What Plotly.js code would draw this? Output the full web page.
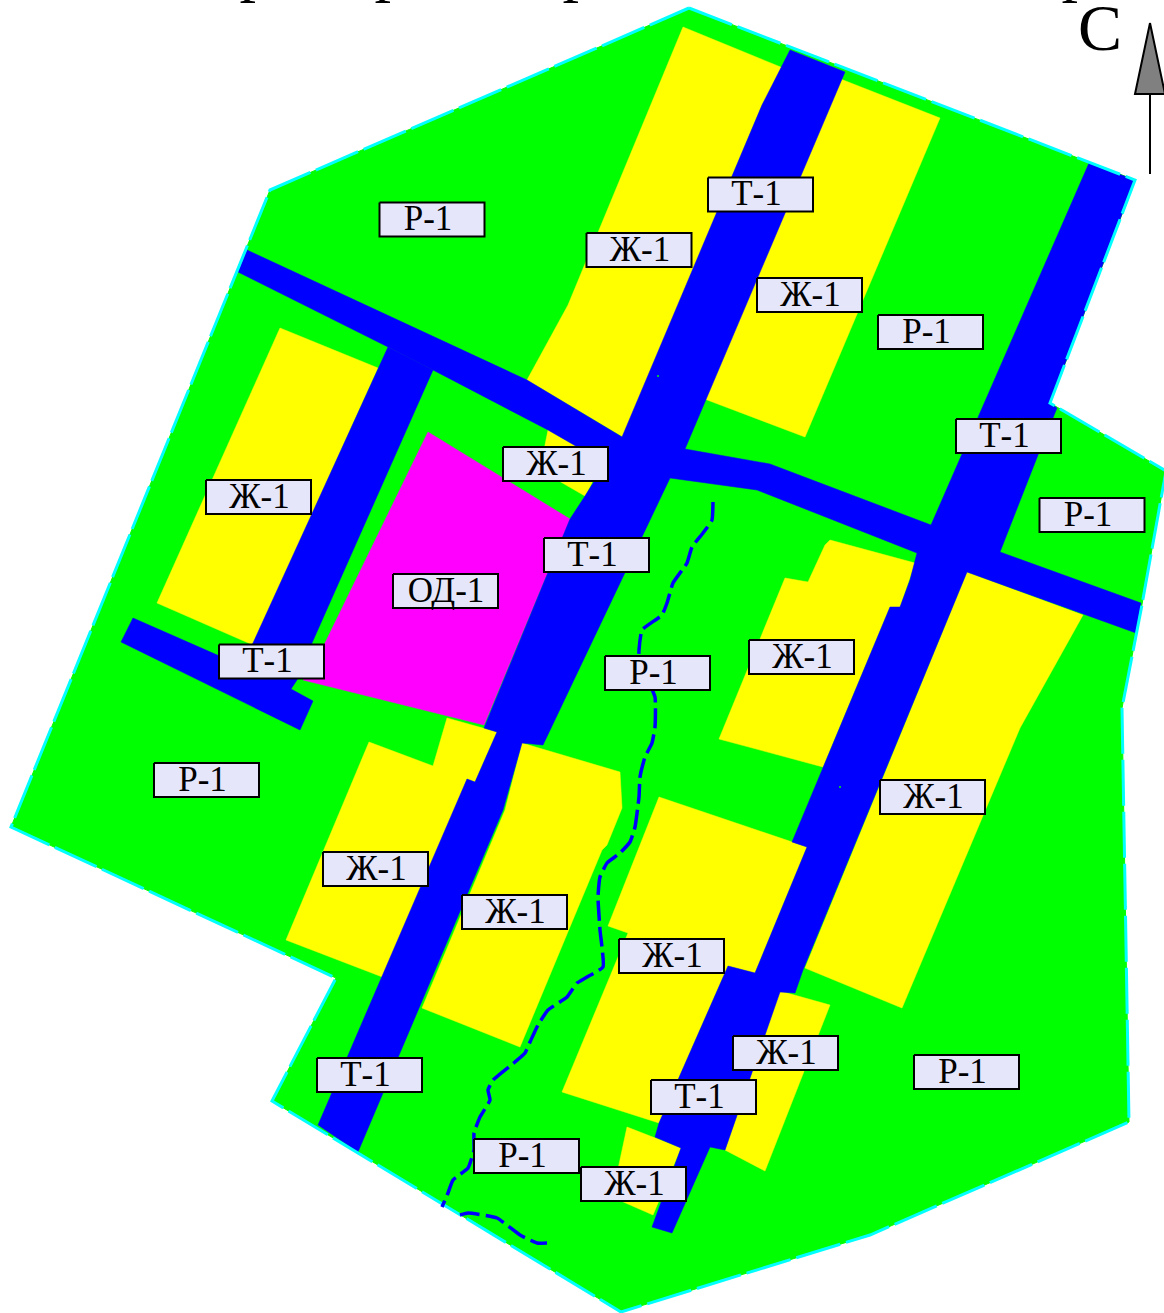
<!DOCTYPE html>
<html><head><meta charset="utf-8">
<script src="https://cdn.plot.ly/plotly-3.0.1.min.js"></script>
<style>html,body{margin:0;padding:0;background:#fff;overflow:hidden}</style>
</head><body><div id="map" style="width:1164px;height:1313px"></div>
<script>
// Map outline and zones as [x, y] map positions
const boundary = [[689,8],[1135,180],[1050,403],[1166,471],[1141,610],[1122,708],[1129,1122],[870,1235],[621,1312],[272,1101],[336,978],[11,827],[270,190],[689,8]];
const housing = [
 [[683,27],[783,68],[762,105],[623,437],[527,380],[568,305]],
 [[838,78],[940,118],[805,437],[702,398]],
 [[280,328],[378,368],[253,645],[157,603]],
 [[548,430],[592,455],[592,483],[585,496],[540,470]],
 [[830,540],[915,563],[900,607],[890,607],[823,767],[719,739],[785,578],[808,582],[825,545]],
 [[967,572],[1083,615],[1020,728],[902,1008],[805,968]],
 [[369,742],[433,766],[447,718],[497,732],[475,782],[467,779],[385,978],[286,940]],
 [[522,743],[620,772],[622,808],[607,845],[602,850],[520,1047],[422,1008],[505,810]],
 [[659,797],[807,847],[755,973],[728,966],[659,1123],[562,1092],[628,933],[608,926]],
 [[780,991],[830,1005],[765,1171],[725,1150]],
 [[627,1127],[681,1148],[653,1215],[612,1197]]
];
const publicZone = [[428,432],[570,519],[484,725],[303,680],[324,645]];
const roads = [
 [[247,250],[527,380],[622,437],[650,475],[600,460],[548,430],[433,370],[388,347],[238,272]],
 [[388,347],[433,370],[312,643],[297,680],[291,689],[313,701],[300,730],[121,642],[133,618],[240,665],[253,643]],
 [[790,50],[845,72],[685,449],[770,464],[931,525],[960,540],[917,553],[757,490],[670,478],[543,745],[522,743],[503,810],[358,1152],[318,1125],[467,779],[475,782],[497,732],[484,728],[570,519],[585,496],[622,437],[762,105]],
 [[1089,163],[1135,180],[1050,403],[1057,408],[1038,455],[1000,552],[1141,603],[1136,633],[967,572],[803,970],[795,993],[780,992],[725,1150],[710,1147],[672,1233],[652,1227],[681,1148],[655,1137],[659,1123],[728,966],[755,973],[807,847],[792,842],[890,607],[900,607],[910,580],[917,553],[931,525]]
];
const streamNorth = [[713,502],[712,520],[703,533],[692,547],[687,563],[673,583],[667,603],[662,615],[642,630],[639,650],[639,660],[655,697],[655,727],[652,743],[645,757],[640,777],[639,797],[635,827],[630,842],[620,853],[607,863],[600,877],[598,897],[600,930],[603,967],[587,977],[577,983],[567,997],[548,1010],[538,1025],[530,1042],[525,1053],[515,1062],[493,1080],[488,1090],[490,1100],[480,1117],[474,1133],[474,1150],[468,1168],[453,1180],[448,1193],[442,1207]];
const streamSouth = [[460,1215],[468,1213],[497,1218],[520,1235],[537,1243],[547,1243]];
const arrowHead = [[1150,23],[1135,94],[1165,94],[1150,23]];
const arrowStem = [[1150,94],[1150,174]];
const specks = [[658,376],[840,787]];

// Zone labels
const labelText = ["Р-1","Ж-1","Т-1","Ж-1","Р-1","Т-1","Р-1","Ж-1","Ж-1","Т-1","ОД-1","Т-1","Р-1","Ж-1","Р-1","Ж-1","Ж-1","Ж-1","Ж-1","Ж-1","Р-1","Т-1","Т-1","Р-1","Ж-1"];
const labelX = [432,639,760.5,809.5,930.5,1008.5,1092,555.5,258.5,596.5,445.5,271.5,657.5,801.5,206.5,932.5,375.5,514.5,671.5,785.5,966.5,369.5,703.5,526.5,633.5];
const labelY = [219.5,250,194.5,295,332,436,515,464,497,555,591,661.5,673,657,780,797,869,912,956,1053,1072,1075,1097,1156,1184];
const topStems = [256,391,579,1078];

const xs = p => p.map(q => q[0]);
const ys = p => p.map(q => q[1]);
const zone = (p, color) => ({x:xs(p).concat(p[0][0]), y:ys(p).concat(p[0][1]), mode:'lines', fill:'toself', fillcolor:color, line:{color:color,width:0.5}, hoverinfo:'skip'});

const traces = [];
traces.push({x:xs(boundary), y:ys(boundary), mode:'lines', fill:'toself', fillcolor:'#00ff00', line:{color:'#00ff00',width:1}, hoverinfo:'skip'});
housing.forEach(p => traces.push(zone(p,'#ffff00')));
traces.push(zone(publicZone,'#ff00ff'));
roads.forEach(p => traces.push(zone(p,'#0000ff')));
traces.push({x:xs(specks), y:ys(specks), mode:'markers', marker:{size:2,color:'#00ff00'}, hoverinfo:'skip'});
traces.push({x:xs(boundary), y:ys(boundary), mode:'lines', line:{color:'#00ffff',width:3,dash:'46px,6px'}, hoverinfo:'skip'});
[streamNorth,streamSouth].forEach(p => traces.push({x:xs(p), y:ys(p), mode:'lines', line:{color:'#0000ff',width:3.5,dash:'20px,6px',shape:'spline',smoothing:0.4}, hoverinfo:'skip'}));
traces.push({x:xs(arrowHead), y:ys(arrowHead), mode:'lines', fill:'toself', fillcolor:'#808080', line:{color:'#000',width:2}, hoverinfo:'skip'});
traces.push({x:xs(arrowStem), y:ys(arrowStem), mode:'lines', line:{color:'#000',width:2}, hoverinfo:'skip'});

// label boxes
const bx=[],by=[];
labelX.forEach((x,i)=>{const y=labelY[i];bx.push(x-52.5,x+52.5,x+52.5,x-52.5,x-52.5,null);by.push(y-17,y-17,y+17,y+17,y-17,null);});
traces.push({x:bx,y:by,mode:'lines',fill:'toself',fillcolor:'#e6e6fa',line:{color:'#000',width:2},hoverinfo:'skip'});
// the wider labels sit centred in their box, the narrow ones a little to the left
const nudge = t => t.startsWith('Ж') ? 1 : t.startsWith('ОД') ? 0.5 : -4;
traces.push({x:labelX.map((x,i)=>x+nudge(labelText[i])),y:labelY.map(y=>y+2),text:labelText,mode:'text',textposition:'middle center',textfont:{family:'Liberation Serif',size:35,color:'#000'},hoverinfo:'skip'});
traces.push({x:[1100],y:[33],text:['С'],mode:'text',textposition:'middle center',textfont:{family:'Liberation Serif',size:66,color:'#000'},hoverinfo:'skip'});
traces.push({x:topStems,y:topStems.map(()=>5),text:topStems.map(()=>'р'),mode:'text',textposition:'top center',textfont:{family:'Liberation Serif',size:66,color:'#000'},hoverinfo:'skip'});

const layout = {
 width:1164,height:1313,margin:{l:0,r:0,t:0,b:0},showlegend:false,
 paper_bgcolor:'#fff',plot_bgcolor:'#fff',
 xaxis:{range:[0,1164],visible:false,fixedrange:true},
 yaxis:{range:[1313,0],visible:false,fixedrange:true}
};
Plotly.newPlot('map',traces,layout,{staticPlot:true,displayModeBar:false});
</script></body></html>
